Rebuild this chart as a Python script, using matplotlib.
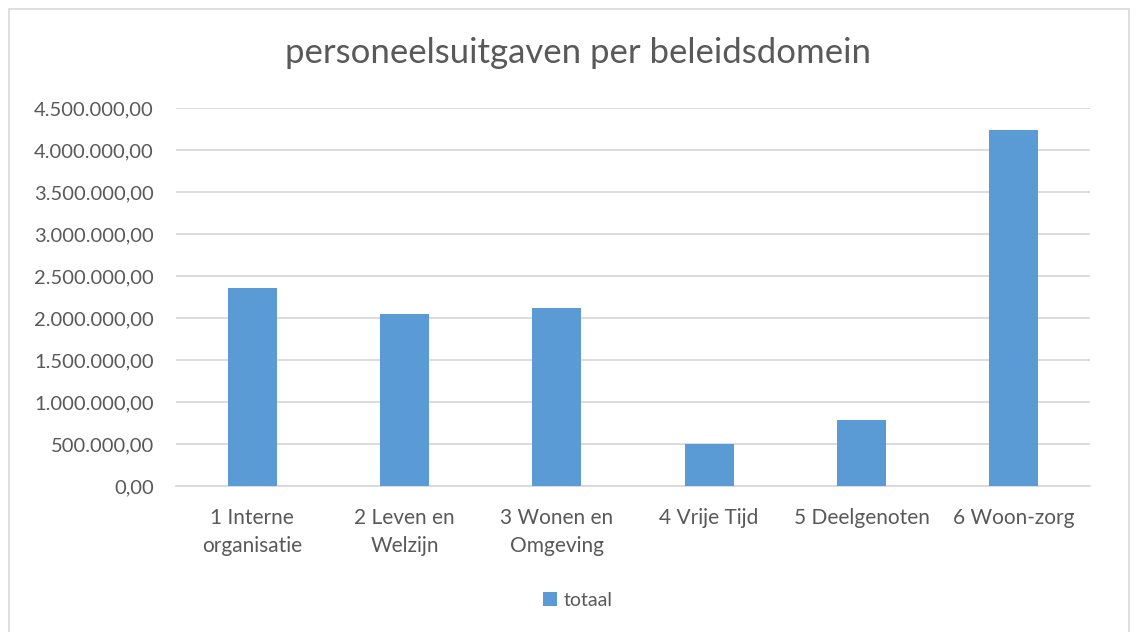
import matplotlib.pyplot as plt
import numpy as np
from matplotlib.patches import Rectangle
from matplotlib.ticker import FuncFormatter, MultipleLocator

# ---------------------------------------------------------------------------
# Data
# ---------------------------------------------------------------------------
categories = [
    "1 Interne\norganisatie",
    "2 Leven en\nWelzijn",
    "3 Wonen en\nOmgeving",
    "4 Vrije Tijd",
    "5 Deelgenoten",
    "6 Woon-zorg",
]
totaal = [2357000, 2051000, 2123000, 496000, 782000, 4238000]

title = "personeelsuitgaven per beleidsdomein"
series_name = "totaal"

BAR_COLOR = "#5b9bd5"
TEXT_COLOR = "#595959"
GRID_COLOR = "#d9d9d9"

plt.rcParams["font.family"] = ["Lato", "DejaVu Sans"]


def dutch_number(value, _pos=None):
    """Format 1234567.5 as 1.234.567,50."""
    s = f"{value:,.2f}"
    return s.replace(",", "X").replace(".", ",").replace("X", ".")


fig = plt.figure(figsize=(11.37, 6.32), dpi=100)
fig.patch.set_facecolor("white")

# chart-area border
fig.add_artist(Rectangle((9 / 1137, -0.01), 1 - 17 / 1137, 1 - 9 / 632 + 0.01,
                         transform=fig.transFigure, fill=False,
                         edgecolor="#d9d9d9", linewidth=1.2))

ax = fig.add_axes([176 / 1137, 1 - 486 / 632, (1090 - 176) / 1137, (486 - 108) / 632])

x = np.arange(len(categories))
ax.bar(x, totaal, width=0.32, color=BAR_COLOR, label=series_name, zorder=3)

ax.set_xlim(-0.5, len(categories) - 0.5)
ax.set_ylim(0, 4500000)
ax.yaxis.set_major_locator(MultipleLocator(500000))
ax.yaxis.set_major_formatter(FuncFormatter(dutch_number))
ax.grid(axis="y", color=GRID_COLOR, linewidth=1.3, zorder=0)

for side in ["top", "right", "left"]:
    ax.spines[side].set_visible(False)
ax.spines["bottom"].set_color(GRID_COLOR)
ax.spines["bottom"].set_linewidth(1.3)

ax.set_xticks(x)
ax.set_xticklabels(categories, fontsize=15, color=TEXT_COLOR, linespacing=1.5)
ax.tick_params(axis="x", length=0, pad=16)
ax.tick_params(axis="y", length=0, pad=16, labelsize=14.5, labelcolor=TEXT_COLOR)

fig.text(0.508, 1 - 53 / 632, title, ha="center", va="center",
         fontsize=25, color=TEXT_COLOR)

fig.legend(loc="center", bbox_to_anchor=(0.508, 1 - 600 / 632), frameon=False,
           fontsize=14, labelcolor=TEXT_COLOR, handlelength=0.75, handleheight=0.75,
           handletextpad=0.3)

fig.savefig("out.png", dpi=100)
